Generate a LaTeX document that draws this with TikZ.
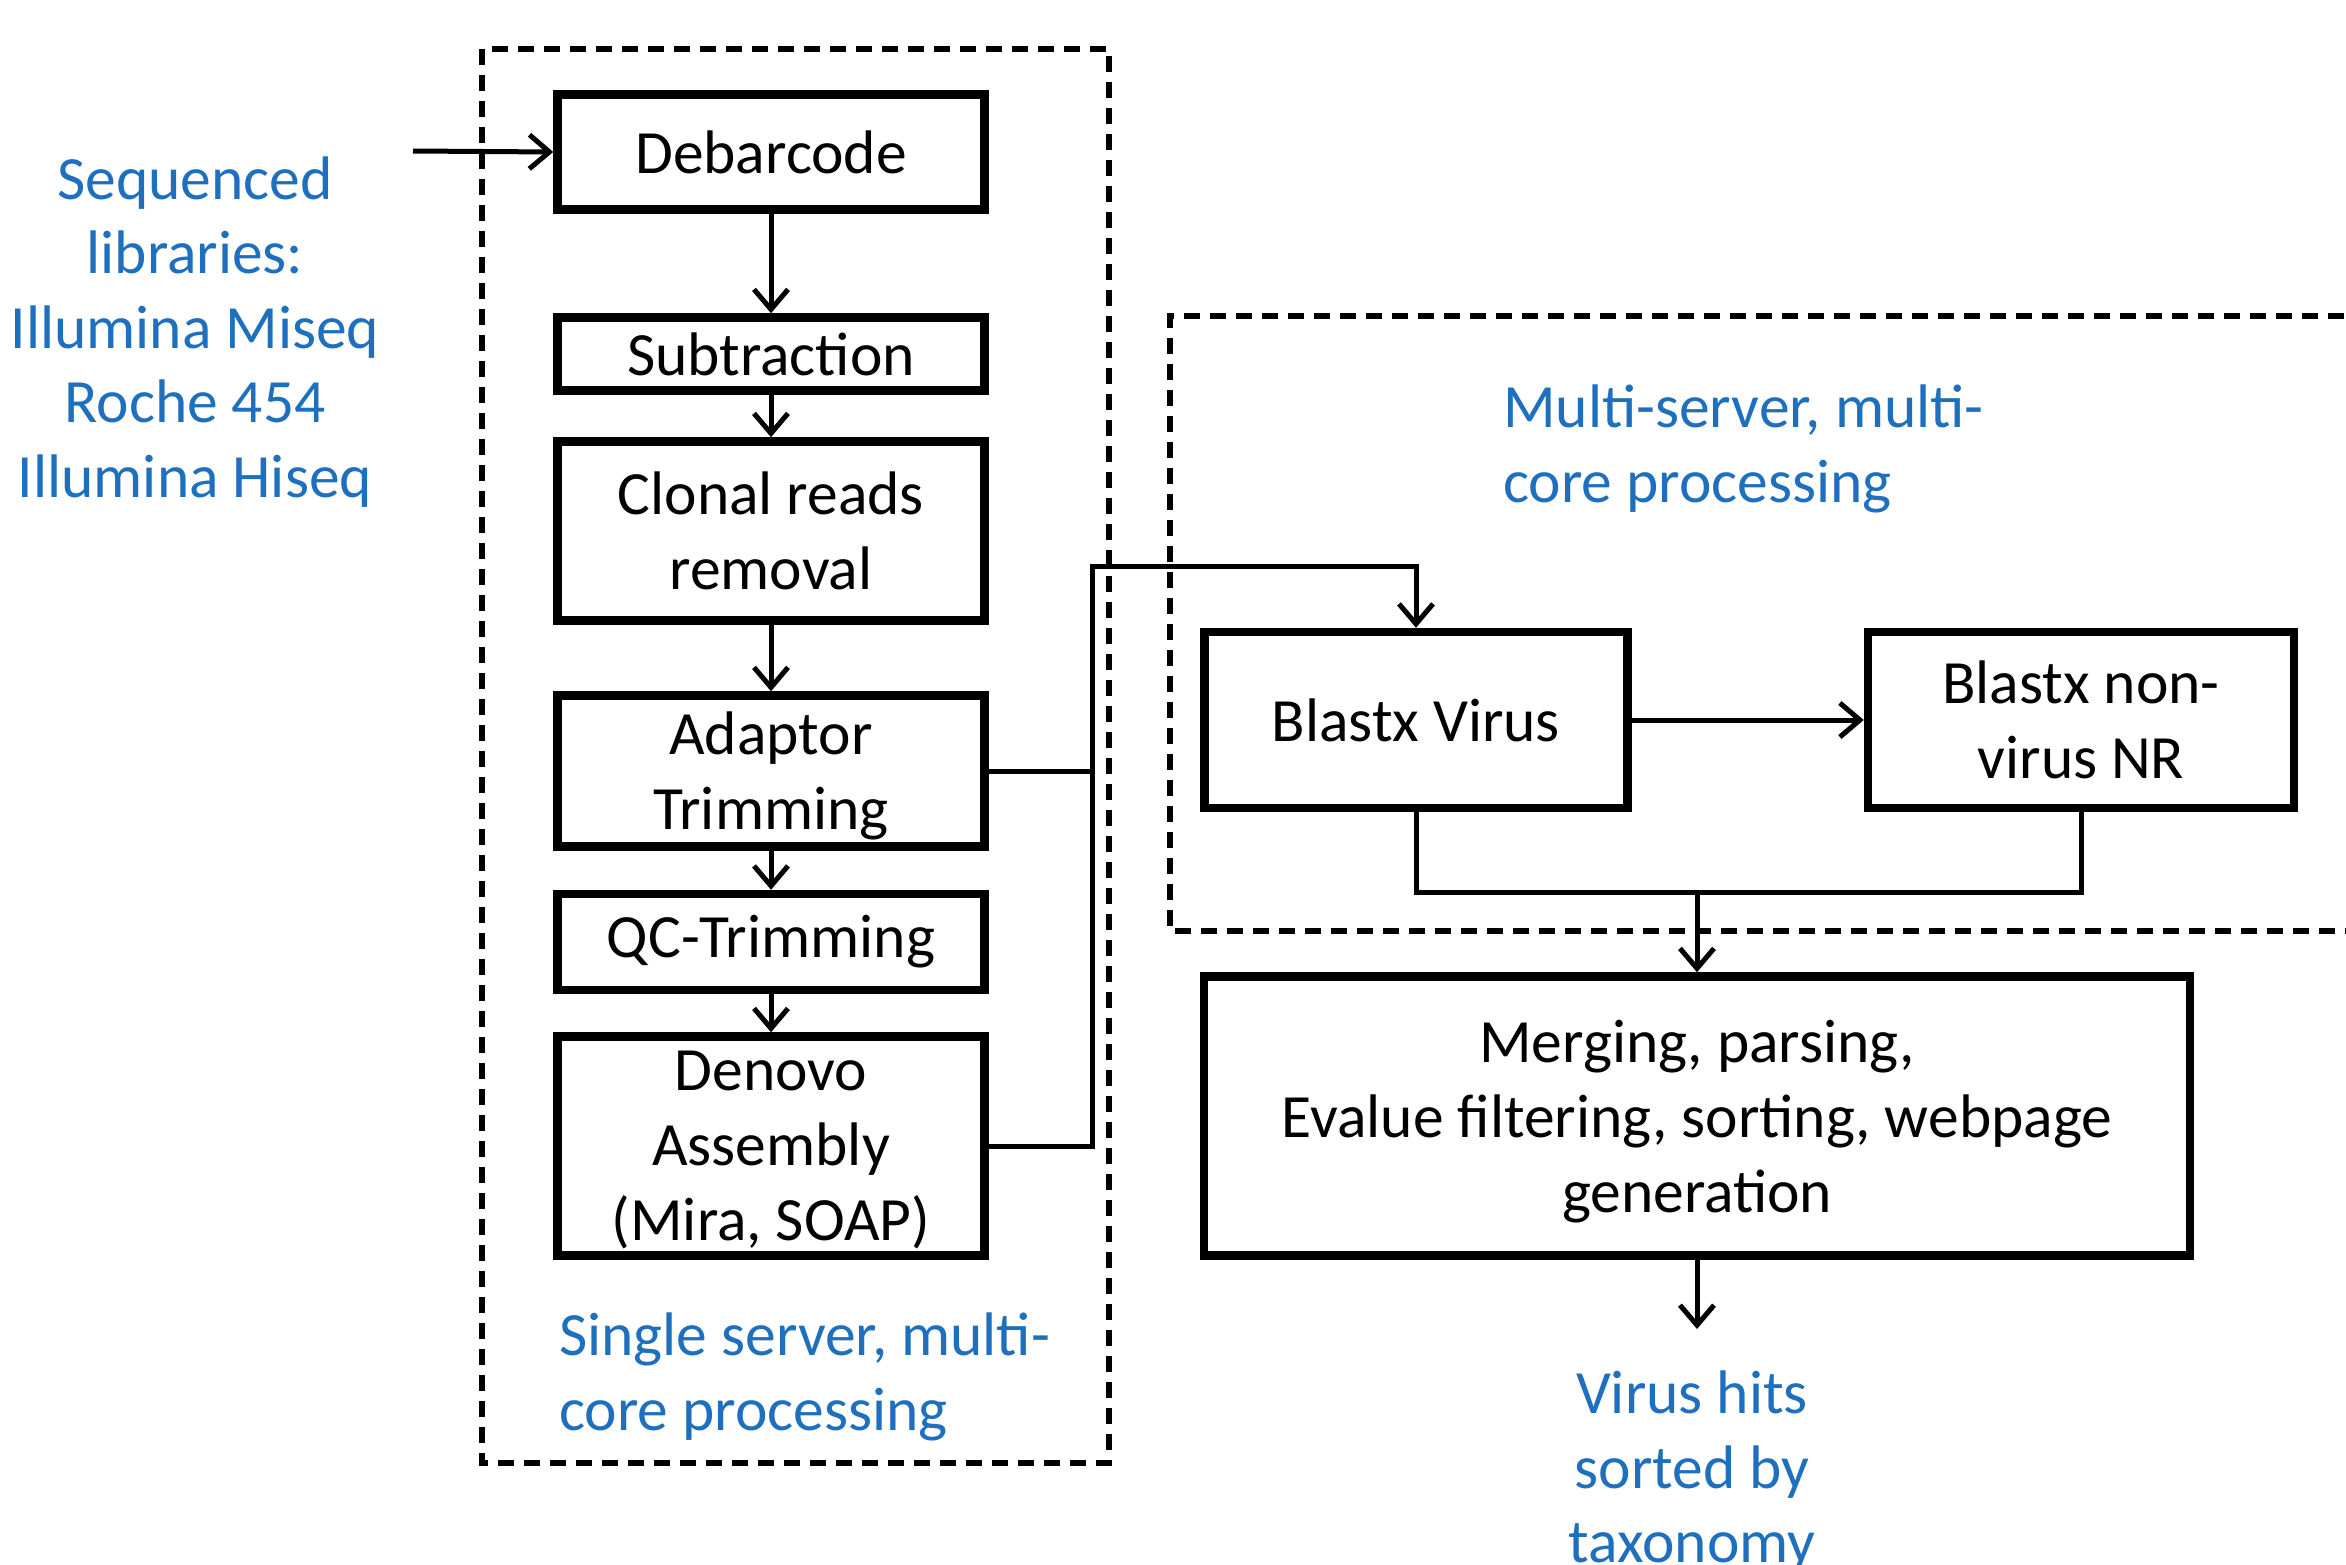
\documentclass[tikz,border=0pt]{standalone}
\usepackage{fontspec}
\setmainfont{Carlito}
\usetikzlibrary{arrows.meta}
\definecolor{txtblue}{HTML}{1F6FBF}
\begin{document}
\begin{tikzpicture}[x=1pt,y=-1pt,
  box/.style={draw=black,line width=8.5pt,inner sep=0pt,align=center,font=\fontsize{61.5}{75}\selectfont},
  conn/.style={draw=black,line width=5pt},
  arr/.style={conn,-{Straight Barb[length=20pt,width=34pt,line width=5pt]}},
  grp/.style={draw=black,line width=5.5pt,dash pattern=on 16pt off 10pt},
  blue/.style={text=txtblue,inner sep=0pt,font=\fontsize{61.5}{74.5}\selectfont}]
\useasboundingbox (0,0) rectangle (2346,1565);
\fill[white] (0,0) rectangle (2346,1565);
% groups
\draw[grp] (482,49) rectangle (1109,1463);
\draw[grp] (2370,316) -- (1170,316) -- (1170,931) -- (2370,931);
% boxes
\node[box,minimum width=427pt,minimum height=115pt] (deb) at (771,152) {Debarcode};
\node[box,minimum width=427pt,minimum height=73pt] (sub) at (771,354) {Subtraction};
\node[box,minimum width=427pt,minimum height=179pt] (clo) at (771,531) {Clonal reads\\removal};
\node[box,minimum width=427pt,minimum height=151pt,text depth=0pt] (ada) at (771,771) {Adaptor\\Trimming};
\node[box,minimum width=427pt,minimum height=96pt] (qc) at (771,942) {QC-Trimming};
\node[box,minimum width=427pt,minimum height=219pt,text depth=0pt] (den) at (771,1146) {Denovo\\Assembly\\(Mira, SOAP)};
\node[box,minimum width=423pt,minimum height=176pt] (bv) at (1416,720) {Blastx Virus};
\node[box,minimum width=426pt,minimum height=176pt] (bn) at (2081,720) {Blastx non-\\virus NR};
\node[box,minimum width=986pt,minimum height=279pt,text depth=0pt] (mer) at (1697,1116) {Merging, parsing,\\Evalue filtering, sorting, webpage\\generation};
% texts
\node[blue,align=center] (seq) at (195,332) {Sequenced\\libraries:\\Illumina Miseq\\Roche 454\\Illumina Hiseq};
\node[blue,align=left,anchor=west] (multi) at (1503,449) {Multi-server, multi-\\core processing};
\node[blue,align=left,anchor=west] (single) at (559,1377) {Single server, multi-\\core processing};
\node[blue,align=center,anchor=north] (hits) at (1692,1371) {Virus hits\\sorted by\\taxonomy};
% connectors
\coordinate (in) at (413,151);
\coordinate (jt) at (1092,566);
\coordinate (mj) at (1697,892);
\coordinate (out) at (1697,1329);
\draw[arr] (in) -- (deb.west);
\draw[arr] (deb) -- (sub);
\draw[arr] (sub) -- (clo);
\draw[arr] (clo) -- (ada);
\draw[arr] (ada) -- (qc);
\draw[arr] (qc) -- (den);
\draw[conn] (ada.east) -- (ada.east -| jt);
\draw[arr] (den.east) -| (jt) -| (bv.north);
\draw[arr] (bv) -- (bn);
\draw[conn] (bv.south) |- (mj) -| (bn.south);
\draw[arr] (mj) -- (mer.north);
\draw[arr] (mer.south) -- (out);
\end{tikzpicture}
\end{document}
